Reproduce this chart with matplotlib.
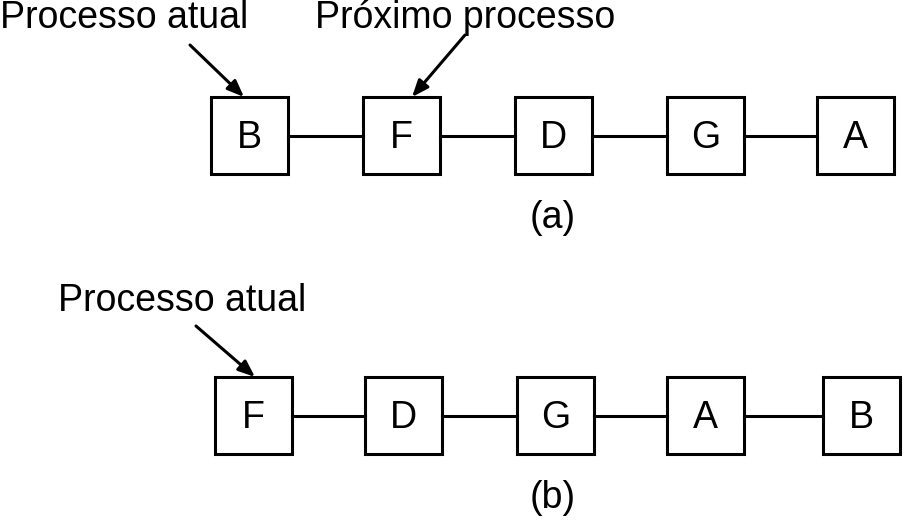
import matplotlib.pyplot as plt
from matplotlib.patches import Rectangle

plt.rcParams['font.family'] = ['Liberation Sans', 'DejaVu Sans']

# row (a)
letters_a = ["B", "F", "D", "G", "A"]
left_a = [211, 363, 515, 667, 817]
top_a = 97
# row (b)
letters_b = ["F", "D", "G", "A", "B"]
left_b = [215, 365, 517, 667, 823]
top_b = 377
box = 77

fig = plt.figure(figsize=(9.07, 5.23), dpi=100)
ax = fig.add_axes([0, 0, 1, 1])
ax.set_xlim(0, 907)
ax.set_ylim(523, 0)
ax.axis('off')

lw = 2.2
fs = 27


def draw_row(letters, lefts, top):
    cy = top + box / 2
    for i in range(len(lefts) - 1):
        ax.plot([lefts[i] + box, lefts[i + 1]], [cy, cy], color='black', lw=lw)
    for l, x in zip(letters, lefts):
        ax.add_patch(Rectangle((x, top), box, box, fill=False, ec='black', lw=lw))
        ax.text(x + box / 2, cy + 2, l, ha='center', va='center', fontsize=fs)


def arrow(x0, y0, x1, y1):
    ax.annotate('', xy=(x1, y1), xytext=(x0, y0),
                arrowprops=dict(arrowstyle='-|>,head_length=1.0,head_width=0.4',
                                color='black', lw=lw, shrinkA=0, shrinkB=0))


draw_row(letters_a, left_a, top_a)
draw_row(letters_b, left_b, top_b)

ax.text(0, 18, "Processo atual", ha='left', va='center', fontsize=fs)
ax.text(315, 18, "Próximo processo", ha='left', va='center', fontsize=fs)
arrow(190, 45, 244, 97)
arrow(465, 35, 412, 97)
ax.text(553, 218, "(a)", ha='center', va='center', fontsize=fs)

ax.text(58, 301, "Processo atual", ha='left', va='center', fontsize=fs)
arrow(196, 326, 255, 377)
ax.text(553, 498, "(b)", ha='center', va='center', fontsize=fs)

fig.savefig('out.png', dpi=100)
